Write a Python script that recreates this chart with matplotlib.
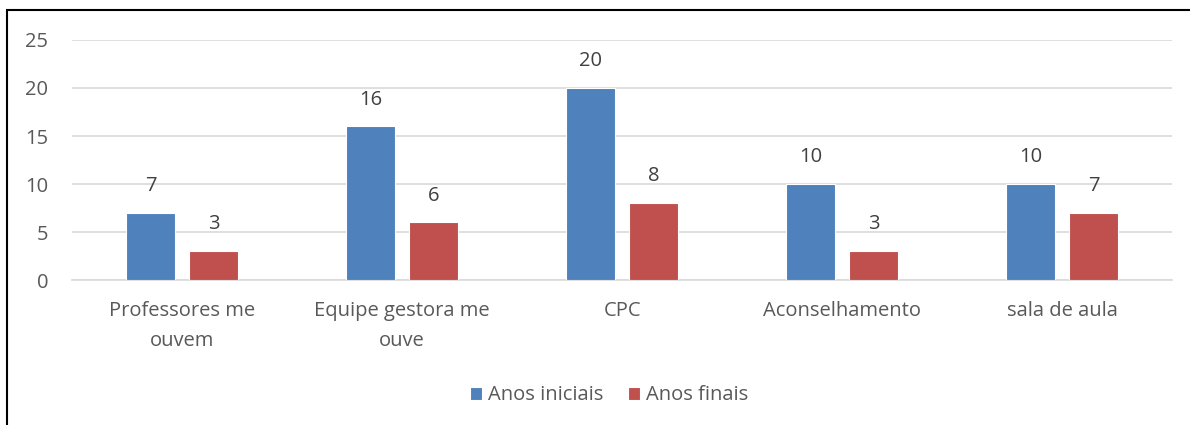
import numpy as np
import matplotlib.pyplot as plt
from matplotlib.patches import Rectangle

categorias = ['Professores me\nouvem', 'Equipe gestora me\nouve', 'CPC', 'Aconselhamento', 'sala de aula']
anos_iniciais = [7, 16, 20, 10, 10]
anos_finais = [3, 6, 8, 3, 7]

plt.rcParams['font.family'] = ['Open Sans', 'DejaVu Sans']
cor_texto = '#595959'
fs = 14.5

fig = plt.figure(figsize=(11.9, 4.25), dpi=100)
ax = fig.add_axes([0.0605, 0.341, 0.9245, 0.565])

x = np.arange(len(categorias))
w = 0.223
off = 0.143
b1 = ax.bar(x - off, anos_iniciais, w, color='#4F81BD', edgecolor='white', linewidth=0.8, label='Anos iniciais', zorder=3)
b2 = ax.bar(x + off, anos_finais, w, color='#C0504D', edgecolor='white', linewidth=0.8, label='Anos finais', zorder=3)

for bars, vals in ((b1, anos_iniciais), (b2, anos_finais)):
    for b, v in zip(bars, vals):
        ax.text(b.get_x() + b.get_width() / 2, v + 2.8, str(v), ha='center', va='center',
                fontsize=fs, color='#404040')

ax.set_xlim(-0.5, len(categorias) - 0.5)
ax.set_ylim(0, 25)
ax.set_yticks(range(0, 26, 5))
ax.set_xticks(x)
ax.set_xticklabels(categorias, fontsize=fs, color=cor_texto, linespacing=1.65)
ax.tick_params(axis='y', labelsize=fs, labelcolor=cor_texto, length=0, pad=17)
ax.tick_params(axis='x', length=0, pad=15)
ax.yaxis.grid(True, color='#D9D9D9', linewidth=1.2, zorder=0)
for s in ['top', 'right', 'left']:
    ax.spines[s].set_visible(False)
ax.spines['bottom'].set_color('#D9D9D9')
ax.spines['bottom'].set_linewidth(1.2)

leg = fig.legend(loc='center', bbox_to_anchor=(0.512, 0.07), ncol=2, frameon=False,
                 fontsize=fs, handlelength=0.6, handleheight=0.6, handletextpad=0.3,
                 columnspacing=1.2)
for t in leg.get_texts():
    t.set_color(cor_texto)

fig.patches.append(Rectangle((7 / 1190, -0.01), 1.02, (425 - 10) / 425 + 0.01, transform=fig.transFigure,
                             fill=False, edgecolor='black', linewidth=1.5))

fig.savefig('out.png', dpi=100)
